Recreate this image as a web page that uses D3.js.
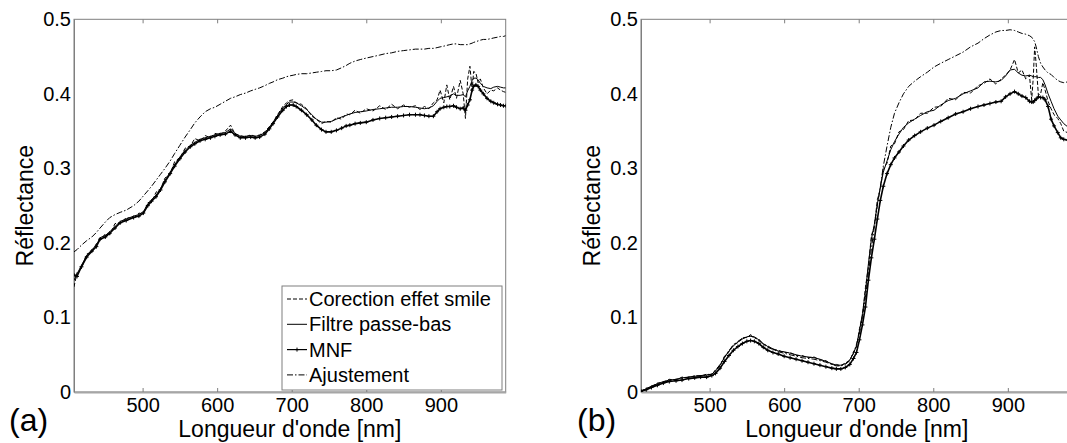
<!DOCTYPE html>
<html><head><meta charset="utf-8">
<script src="https://cdn.jsdelivr.net/npm/d3@7"></script>
<style>
body{margin:0;background:#fff}
svg{display:block}
text{font-family:"Liberation Sans",Arial,sans-serif;fill:#000}
</style>
</head><body>
<svg id="c" width="1067" height="443"></svg>
<script>
const xTicks = [500, 600, 700, 800, 900];
const yTicks = [0, 0.1, 0.2, 0.3, 0.4, 0.5];
const yTickLabels = ['0', '0.1', '0.2', '0.3', '0.4', '0.5'];
const seriesNames = ['Corection effet smile', 'Filtre passe-bas', 'MNF', 'Ajustement'];
const panelLabels = ['(a)', '(b)'];

const wavelengthsA = [
 408,412,418,425,432,438,443,450,456,463,
 470,478,488,495,501,507,512,518,524,530,
 537,543,550,557,564,570,577,584,591,597,
 604,611,618,624,631,638,645,651,657,664,
 670,675,681,688,693,697,702,706,713,720,
 727,733,740,746,753,760,767,773,778,785,
 792,800,809,818,826,834,842,850,858,866,
 872,878,884,890,895,899,904,908,912,917,
 921,926,930,933,936,939,942,944,947,950,
 953,957,962,967,971,976,980,984,987];
const mnfA = [
 .157,.155,.168,.181,.189,.195,.205,.208,.213,.220,
 .227,.230,.234,.236,.240,.250,.256,.262,.271,.282,
 .293,.303,.313,.322,.329,.333,.337,.339,.341,.343,
 .345,.346,.350,.345,.341,.341,.342,.341,.342,.346,
 .353,.360,.369,.378,.383,.385,.385,.383,.378,.372,
 .365,.358,.352,.349,.349,.351,.354,.357,.358,.360,
 .361,.362,.365,.367,.368,.369,.370,.371,.372,.372,
 .372,.371,.370,.370,.376,.380,.382,.383,.383,.384,
 .382,.380,.381,.378,.385,.392,.405,.410,.412,.410,
 .405,.400,.394,.390,.388,.386,.385,.384,.384];
const filtreA = [
 .150,.158,.170,.183,.191,.197,.207,.210,.215,.222,
 .229,.232,.236,.238,.242,.252,.258,.264,.273,.284,
 .295,.305,.315,.324,.331,.335,.339,.341,.343,.345,
 .347,.348,.353,.347,.343,.343,.344,.343,.344,.348,
 .355,.362,.371,.381,.386,.389,.389,.388,.384,.379,
 .372,.366,.362,.362,.363,.366,.369,.371,.373,.375,
 .376,.377,.379,.380,.381,.382,.382,.383,.383,.382,
 .381,.380,.381,.384,.390,.394,.395,.396,.397,.400,
 .398,.398,.399,.396,.404,.410,.418,.421,.421,.419,
 .414,.410,.408,.407,.409,.410,.409,.408,.408];
const smileA = [
 .141,.160,.166,.185,.188,.199,.204,.212,.211,.226,
 .226,.234,.233,.240,.239,.254,.255,.268,.272,.287,
 .293,.309,.314,.327,.330,.340,.337,.344,.341,.347,
 .345,.350,.358,.346,.344,.342,.345,.343,.345,.349,
 .356,.362,.372,.383,.388,.391,.392,.388,.386,.380,
 .370,.366,.360,.363,.362,.368,.366,.373,.372,.378,
 .374,.380,.377,.384,.379,.386,.380,.385,.382,.384,
 .379,.383,.380,.388,.392,.405,.388,.412,.392,.410,
 .394,.418,.400,.367,.420,.437,.405,.430,.428,.415,
 .420,.408,.400,.405,.404,.408,.405,.403,.402];
const ajustA = [
 .188,.191,.197,.203,.208,.214,.220,.228,.234,.238,
 .241,.244,.250,.256,.263,.270,.276,.284,.292,.300,
 .310,.320,.331,.342,.352,.361,.369,.376,.380,.382,
 .386,.390,.394,.396,.399,.401,.404,.406,.408,.411,
 .414,.416,.419,.421,.423,.424,.425,.426,.427,.427,
 .428,.429,.430,.431,.431,.432,.435,.438,.441,.444,
 .446,.448,.450,.452,.454,.455,.457,.458,.459,.460,
 .460,.460,.461,.461,.462,.463,.464,.465,.466,.467,
 .467,.466,.466,.466,.466,.467,.468,.469,.470,.471,
 .472,.473,.473,.474,.475,.476,.477,.477,.478];

const wavelengthsB = [
 408,415,422,430,438,446,455,463,472,480,
 488,496,503,508,514,520,526,532,538,544,
 550,555,560,566,572,578,585,592,600,608,
 616,624,632,640,648,656,664,670,676,682,
 688,693,697,701,705,709,713,717,721,725,
 729,733,738,743,748,754,760,767,775,783,
 792,801,810,820,830,840,850,860,868,876,
 884,891,897,903,909,914,919,924,929,932,
 934,936,938,941,944,947,950,954,958,962,
 967,971,975,980,985,987];
const mnfB = [
 .001,.003,.006,.009,.012,.014,.015,.016,.018,.019,
 .020,.020,.022,.025,.032,.041,.049,.056,.061,.065,
 .068,.069,.068,.065,.060,.056,.053,.051,.048,.046,
 .044,.042,.040,.038,.036,.034,.032,.031,.031,.033,
 .037,.045,.053,.070,.090,.114,.150,.180,.205,.232,
 .257,.276,.293,.305,.314,.322,.330,.338,.344,.349,
 .354,.358,.363,.368,.373,.376,.380,.383,.385,.387,
 .389,.390,.396,.400,.403,.400,.397,.395,.390,.389,
 .389,.391,.393,.396,.395,.395,.392,.383,.366,.357,
 .348,.341,.339,.338,.338,.338];
const filtreB = [
 .002,.004,.008,.011,.014,.016,.017,.019,.020,.021,
 .022,.023,.024,.028,.036,.046,.055,.062,.067,.071,
 .074,.075,.074,.070,.065,.061,.058,.055,.054,.052,
 .050,.048,.047,.046,.044,.041,.038,.036,.036,.038,
 .043,.052,.062,.082,.105,.135,.172,.205,.225,.252,
 .275,.295,.310,.325,.336,.346,.355,.361,.366,.371,
 .376,.378,.385,.391,.394,.400,.404,.408,.416,.417,
 .416,.418,.424,.432,.433,.428,.425,.424,.425,.424,
 .423,.423,.423,.422,.422,.419,.412,.400,.390,.380,
 .370,.365,.360,.356,.354,.354];
const smileB = [
 .000,.005,.007,.012,.013,.017,.016,.020,.019,.022,
 .021,.024,.023,.030,.035,.048,.054,.064,.066,.073,
 .073,.077,.073,.071,.064,.062,.057,.056,.053,.053,
 .049,.049,.046,.047,.043,.042,.037,.037,.035,.039,
 .042,.054,.060,.085,.102,.140,.168,.210,.222,.258,
 .272,.300,.307,.330,.333,.349,.352,.364,.365,.374,
 .374,.382,.383,.394,.392,.402,.401,.411,.414,.420,
 .413,.420,.425,.432,.446,.428,.432,.420,.425,.392,
 .420,.463,.440,.398,.400,.415,.405,.390,.380,.372,
 .367,.360,.350,.348,.346,.346];
const ajustB = [
 .001,.004,.007,.010,.013,.015,.017,.018,.020,.021,
 .022,.022,.024,.029,.037,.047,.056,.063,.068,.072,
 .074,.075,.073,.069,.064,.060,.057,.054,.052,.050,
 .048,.046,.045,.044,.042,.040,.037,.035,.035,.037,
 .042,.052,.064,.078,.100,.127,.160,.192,.222,.250,
 .275,.303,.330,.355,.374,.388,.400,.410,.417,.423,
 .429,.436,.441,.446,.451,.456,.463,.468,.474,.479,
 .483,.485,.485,.486,.485,.483,.481,.480,.478,.476,
 .473,.470,.463,.450,.441,.436,.432,.428,.426,.422,
 .418,.416,.415,.416,.416,.416];

const svg = d3.select('#c');
const PW = 431.7, TOP = 19.3, BOT = 392;
const styles = [
  {dash:'4,2', width:1},
  {dash:null, width:1},
  {dash:null, width:1.6, marker:true},
  {dash:'6,2,1.5,2', width:1}
];

const panels = [
  {left:74, labelX:9, wl:wavelengthsA, series:[smileA, filtreA, mnfA, ajustA], legend:true},
  {left:641, labelX:577, wl:wavelengthsB, series:[smileB, filtreB, mnfB, ajustB], legend:false}
];

panels.forEach((p, pi) => {
  const x = d3.scaleLinear().domain([408, 987]).range([p.left, p.left + PW]);
  const y = d3.scaleLinear().domain([0, 0.5]).range([BOT, TOP]);
  const g = svg.append('g');
  const clipId = 'clip' + pi;
  svg.append('clipPath').attr('id', clipId).append('rect')
    .attr('x', p.left).attr('y', TOP).attr('width', PW).attr('height', BOT - TOP);

  // box
  g.append('rect').attr('x', p.left).attr('y', TOP).attr('width', PW).attr('height', BOT - TOP)
    .attr('fill', 'none').attr('stroke', '#7f7f7f').attr('stroke-width', 1);

  // top axis ticks
  const ta = g.append('g').attr('transform', `translate(0,${TOP})`)
    .call(d3.axisTop(x).tickValues(xTicks).tickSizeInner(-4).tickSizeOuter(0).tickFormat(''));
  ta.select('.domain').remove();
  ta.selectAll('line').attr('stroke', '#7f7f7f');

  // bottom axis
  const ba = g.append('g').attr('transform', `translate(0,${BOT})`)
    .call(d3.axisBottom(x).tickValues(xTicks).tickSizeInner(-4).tickSizeOuter(0).tickPadding(6));
  ba.select('.domain').attr('stroke', '#a6a6a6').attr('stroke-width', 2);
  ba.selectAll('line').attr('stroke', '#7f7f7f');
  ba.selectAll('text').attr('font-size', 20).attr('font-family', '"Liberation Sans",Arial,sans-serif');

  // left axis
  const la = g.append('g').attr('transform', `translate(${p.left},0)`)
    .call(d3.axisLeft(y).tickValues(yTicks).tickSize(0).tickPadding(3)
      .tickFormat((d, i) => yTickLabels[i]));
  la.select('.domain').attr('stroke', '#7f7f7f');
  la.selectAll('text').attr('font-size', 20).attr('font-family', '"Liberation Sans",Arial,sans-serif');

  // axis titles
  g.append('text').attr('x', p.left + PW / 2).attr('y', 437).attr('text-anchor', 'middle')
    .attr('font-size', 23).text("Longueur d'onde [nm]");
  g.append('text').attr('transform', `translate(${p.left - 41},${(TOP + BOT) / 2}) rotate(-90)`)
    .attr('text-anchor', 'middle').attr('font-size', 23).text('Réflectance');
  g.append('text').attr('x', p.labelX).attr('y', 431).attr('font-size', 32).text(panelLabels[pi]);

  // data
  const dg = g.append('g').attr('clip-path', `url(#${clipId})`);
  const line = d3.line().x(d => x(d[0])).y(d => y(d[1]));
  p.series.forEach((vals, si) => {
    const pts = p.wl.map((w, i) => [w, vals[i]]);
    const st = styles[si];
    dg.append('path').datum(pts).attr('d', line).attr('fill', 'none')
      .attr('stroke', '#000').attr('stroke-width', st.width)
      .attr('stroke-dasharray', st.dash);
    if (st.marker) {
      dg.selectAll(null).data(pts).enter().append('path')
        .attr('d', d => `M${x(d[0]) - 2},${y(d[1])}h4M${x(d[0])},${y(d[1]) - 2}v4`)
        .attr('stroke', '#000').attr('stroke-width', 1);
    }
  });

  if (p.legend) {
    const lx = 282, ly = 286, lw = 220, lh = 104;
    const lg = g.append('g');
    lg.append('rect').attr('x', lx).attr('y', ly).attr('width', lw).attr('height', lh)
      .attr('fill', '#fff').attr('stroke', '#7f7f7f');
    seriesNames.forEach((name, i) => {
      const cy = 299 + i * 25.3;
      const st = styles[i];
      lg.append('line').attr('x1', 287).attr('x2', 307).attr('y1', cy).attr('y2', cy)
        .attr('stroke', '#000').attr('stroke-width', st.width > 1 ? 1.2 : 1)
        .attr('stroke-dasharray', st.dash);
      if (st.marker) {
        lg.append('path').attr('d', `M295,${cy}h4M297,${cy - 2}v4`).attr('stroke', '#000');
      }
      lg.append('text').attr('x', 309).attr('y', cy).attr('dy', '0.35em')
        .attr('font-size', 20).text(name);
    });
  }
});
</script>
</body></html>
